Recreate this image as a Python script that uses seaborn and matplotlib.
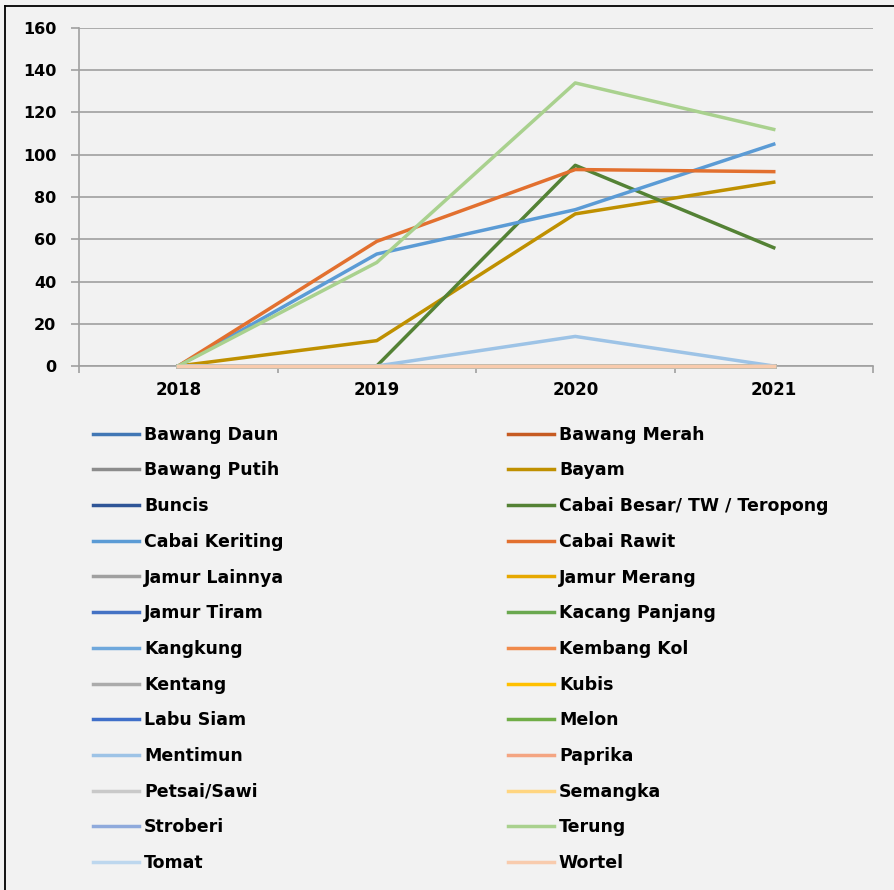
import numpy as np
import pandas as pd
import matplotlib
matplotlib.use("Agg")
import matplotlib.pyplot as plt
from matplotlib.lines import Line2D
import seaborn as sns

years = ["2018", "2019", "2020", "2021"]
crops = ["Bawang Daun", "Bawang Merah", "Bawang Putih", "Bayam", "Buncis",
         "Cabai Besar/ TW / Teropong", "Cabai Keriting", "Cabai Rawit",
         "Jamur Lainnya", "Jamur Merang", "Jamur Tiram", "Kacang Panjang",
         "Kangkung", "Kembang Kol", "Kentang", "Kubis", "Labu Siam", "Melon",
         "Mentimun", "Paprika", "Petsai/Sawi", "Semangka", "Stroberi", "Terung",
         "Tomat", "Wortel"]
colors = ["#4177B5", "#C65B22", "#8C8C8C", "#BF9000", "#2F5597", "#548235",
          "#5B9BD5", "#E2702F", "#A0A0A0", "#E6A800", "#4472C4", "#6AA84F",
          "#6FA8DC", "#F08A4B", "#ABABAB", "#FFC000", "#3F6FC9", "#70AD47",
          "#9DC3E6", "#F4A582", "#C9C9C9", "#FFD580", "#8FAADC", "#A9D18E",
          "#BDD7EE", "#F8CBAD"]
v2018 = [0, 0, 0, 0, 0, 0, 0, 0, 0, 0, 0, 0, 0, 0, 0, 0, 0, 0, 0, 0, 0, 0, 0, 0, 0, 0]
v2019 = [0, 0, 0, 12, 0, 0, 53, 59, 0, 0, 0, 0, 0, 0, 0, 0, 0, 0, 0, 0, 0, 0, 0, 49, 0, 0]
v2020 = [0, 0, 0, 72, 0, 95, 74, 93, 0, 0, 0, 0, 0, 0, 0, 0, 0, 0, 14, 0, 0, 0, 0, 134, 0, 0]
v2021 = [0, 0, 0, 87, 0, 56, 105, 92, 0, 0, 0, 0, 0, 0, 0, 0, 0, 0, 0, 0, 0, 0, 0, 112, 0, 0]
yticks = [0, 20, 40, 60, 80, 100, 120, 140, 160]

rows = []
for yi, vals in enumerate([v2018, v2019, v2020, v2021]):
    for c, v in zip(crops, vals):
        rows.append({"pos": yi, "year": years[yi], "crop": c, "value": v})
df = pd.DataFrame(rows)
palette = dict(zip(crops, colors))

bg = "#F2F2F2"
grid = "#A0A0A0"
fig = plt.figure(figsize=(8.94, 8.90), dpi=100, facecolor=bg)
ax = fig.add_axes([79/894, 1-366/890, (873-79)/894, (366-28)/890])
ax.set_facecolor(bg)

sns.lineplot(data=df, x="pos", y="value", hue="crop", hue_order=crops,
             palette=palette, linewidth=2.5, legend=False, ax=ax, sort=False,
             estimator=None)
for ln in ax.get_lines():
    ln.set_clip_on(False)
    ln.set_zorder(3)

ax.set_xlim(-0.5, len(years) - 0.5)
ax.set_ylim(0, 160)
ax.set_yticks(yticks)
ax.set_yticklabels([str(t) for t in yticks], fontsize=11.5, fontweight="bold")
ax.set_xticks(range(len(years)))
ax.set_xticklabels(years, fontsize=12, fontweight="bold")
ax.set_xticks(np.arange(-0.5, len(years)), minor=True)
ax.tick_params(axis="x", which="major", length=0, pad=11)
ax.tick_params(axis="x", which="minor", length=5, color=grid, width=1.2, direction="out")
ax.tick_params(axis="y", length=5.5, color=grid, width=1.2, pad=11)
ax.set_xlabel("")
ax.set_ylabel("")
ax.grid(axis="y", color=grid, linewidth=1.2)
ax.set_axisbelow(True)
for s in ["top", "right"]:
    ax.spines[s].set_visible(False)
for s in ["left", "bottom"]:
    ax.spines[s].set_color(grid)
    ax.spines[s].set_linewidth(1.2)
    ax.spines[s].set_zorder(1)

handles = [Line2D([], [], color=palette[c], linewidth=2.5) for c in crops]
left_idx = list(range(0, len(crops), 2))
right_idx = list(range(1, len(crops), 2))
common = dict(frameon=False, borderpad=0, handlelength=2.65, handletextpad=0.3,
              labelspacing=1.02, prop={"weight": "bold", "size": 12.5}, loc="upper left")
leg1 = fig.legend([handles[i] for i in left_idx], [crops[i] for i in left_idx],
                  bbox_to_anchor=(84/894, 1-417/890), **common)
leg2 = fig.legend([handles[i] for i in right_idx], [crops[i] for i in right_idx],
                  bbox_to_anchor=(499/894, 1-417/890), **common)

fig.add_artist(Line2D([5/894, 1], [1-6/890, 1-6/890], color="black", linewidth=1.3,
                      transform=fig.transFigure))
fig.add_artist(Line2D([5/894, 5/894], [0, 1-6/890], color="black", linewidth=1.3,
                      transform=fig.transFigure))

fig.savefig("out.png", dpi=100, facecolor=bg)
